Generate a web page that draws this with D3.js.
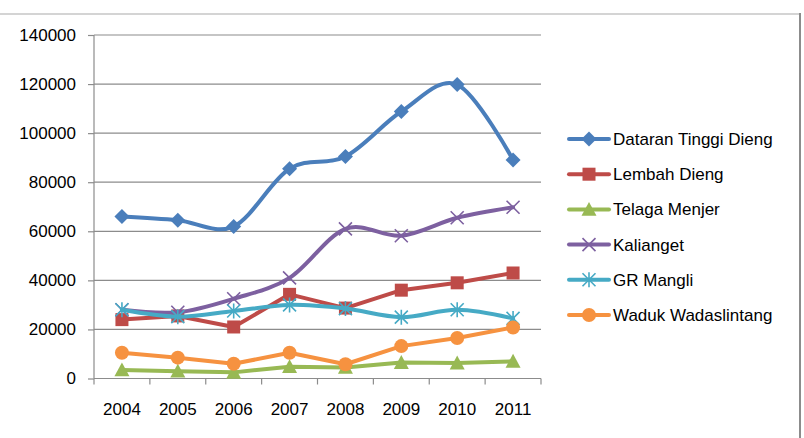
<!DOCTYPE html>
<html>
<head>
<meta charset="utf-8">
<script src="https://cdn.jsdelivr.net/npm/d3@7"></script>
<style>
  html, body { margin: 0; padding: 0; background: #fff; }
  svg { display: block; }
  text { font-family: "Liberation Sans", Arial, sans-serif; fill: #000; }
</style>
</head>
<body>
<svg id="chart" width="804" height="438"></svg>
<script>
/* Visitor numbers per tourist site, 2004–2011 */
var years = ['2004', '2005', '2006', '2007', '2008', '2009', '2010', '2011'];
var yTicks = [0, 20000, 40000, 60000, 80000, 100000, 120000, 140000];

var seriesNames = ['Dataran Tinggi Dieng', 'Lembah Dieng', 'Telaga Menjer',
                   'Kalianget', 'GR Mangli', 'Waduk Wadaslintang'];

var dataranTinggiDieng = [66000, 64500, 62000, 85500, 90500, 108800, 119800, 89100];
var lembahDieng        = [24000, 25500, 21000, 34300, 28700, 36000, 39000, 43000];
var telagaMenjer       = [3500, 3000, 2500, 4800, 4500, 6500, 6300, 7000];
var kalianget          = [28000, 27000, 32500, 41000, 61000, 58200, 65500, 69800];
var grMangli           = [28000, 25200, 27500, 30000, 28500, 25000, 28000, 24500];
var wadukWadaslintang  = [10500, 8500, 6000, 10500, 5800, 13200, 16500, 20800];

var seriesValues = [dataranTinggiDieng, lembahDieng, telagaMenjer,
                    kalianget, grMangli, wadukWadaslintang];

(function () {
  'use strict';

  var colors  = ['#4A7EBB', '#BE4B48', '#98B954', '#7D60A0', '#46AAC5', '#F69240'];
  var markers = ['diamond', 'square', 'triangle', 'cross', 'star', 'circle'];
  var smooth  = [true, false, false, true, true, false];

  var svg = d3.select('#chart');

  /* chart frame: light top rule, darker right edge */
  svg.append('line').attr('x1', 0).attr('x2', 800).attr('y1', 14).attr('y2', 14)
    .attr('stroke', '#d4d4d4').attr('stroke-width', 2);
  svg.append('line').attr('x1', 800).attr('x2', 800).attr('y1', 13).attr('y2', 438)
    .attr('stroke', '#8c8c8c').attr('stroke-width', 2);

  var plot = { left: 94, right: 541, top: 35, bottom: 378.5 };

  var x = d3.scaleBand().domain(years).range([plot.left, plot.right]);
  var y = d3.scaleLinear().domain([0, 140000]).range([plot.bottom, plot.top]);

  /* gridlines */
  svg.append('g').selectAll('line').data(yTicks.slice(1)).join('line')
    .attr('x1', plot.left).attr('x2', plot.right)
    .attr('y1', function (d) { return y(d); }).attr('y2', function (d) { return y(d); })
    .attr('stroke', '#8c8c8c').attr('stroke-width', 1.2);

  /* y axis */
  var yAxis = svg.append('g').attr('transform', 'translate(' + plot.left + ',0)')
    .call(d3.axisLeft(y).tickValues(yTicks).tickSize(6).tickPadding(12).tickFormat(d3.format('d')));
  yAxis.select('.domain').attr('stroke', '#8c8c8c').attr('stroke-width', 1.2)
    .attr('d', 'M0,' + plot.top + 'V' + plot.bottom);
  yAxis.selectAll('.tick line').attr('stroke', '#8c8c8c').attr('stroke-width', 1.2);
  yAxis.selectAll('.tick text').style('font-size', '17px')
    .style('font-family', '"Liberation Sans", Arial, sans-serif').attr('fill', '#000');

  /* x axis: ticks between categories */
  var xg = svg.append('g');
  xg.append('line').attr('x1', plot.left).attr('x2', plot.right)
    .attr('y1', plot.bottom).attr('y2', plot.bottom)
    .attr('stroke', '#8c8c8c').attr('stroke-width', 1.2);
  var bounds = years.map(function (d) { return x(d); }).concat([plot.right]);
  xg.selectAll('line.tk').data(bounds).join('line').attr('class', 'tk')
    .attr('x1', function (d) { return d; }).attr('x2', function (d) { return d; })
    .attr('y1', plot.bottom).attr('y2', plot.bottom + 6)
    .attr('stroke', '#8c8c8c').attr('stroke-width', 1.2);
  xg.selectAll('text').data(years).join('text')
    .attr('x', function (d) { return x(d) + x.bandwidth() / 2; })
    .attr('y', 415)
    .attr('text-anchor', 'middle')
    .style('font-size', '17px')
    .text(function (d) { return d; });

  function cx(i) { return x(years[i]) + x.bandwidth() / 2; }

  function drawMarker(g, type, px, py, color) {
    var s;
    if (type === 'diamond') {
      s = 7.5;
      g.append('path').attr('d', 'M' + px + ',' + (py - s) + 'L' + (px + s) + ',' + py +
        'L' + px + ',' + (py + s) + 'L' + (px - s) + ',' + py + 'Z').attr('fill', color);
    } else if (type === 'square') {
      s = 6.5;
      g.append('rect').attr('x', px - s).attr('y', py - s).attr('width', 2 * s).attr('height', 2 * s)
        .attr('fill', color);
    } else if (type === 'triangle') {
      s = 7.5;
      g.append('path').attr('d', 'M' + px + ',' + (py - s) + 'L' + (px + s) + ',' + (py + s * 0.85) +
        'L' + (px - s) + ',' + (py + s * 0.85) + 'Z').attr('fill', color);
    } else if (type === 'cross') {
      s = 6.5;
      g.append('path').attr('d', 'M' + (px - s) + ',' + (py - s) + 'L' + (px + s) + ',' + (py + s) +
        'M' + (px + s) + ',' + (py - s) + 'L' + (px - s) + ',' + (py + s))
        .attr('stroke', color).attr('stroke-width', 1.6).attr('fill', 'none');
    } else if (type === 'star') {
      s = 6.5;
      g.append('path').attr('d', 'M' + (px - s) + ',' + (py - s) + 'L' + (px + s) + ',' + (py + s) +
        'M' + (px + s) + ',' + (py - s) + 'L' + (px - s) + ',' + (py + s) +
        'M' + px + ',' + (py - s - 1) + 'L' + px + ',' + (py + s + 1))
        .attr('stroke', color).attr('stroke-width', 1.6).attr('fill', 'none');
    } else {
      g.append('circle').attr('cx', px).attr('cy', py).attr('r', 7).attr('fill', color);
    }
  }

  /* series, drawn in order so later ones sit on top */
  seriesValues.forEach(function (vals, k) {
    var g = svg.append('g');
    var line = d3.line()
      .x(function (d, i) { return cx(i); })
      .y(function (d) { return y(d); })
      .curve(smooth[k] ? d3.curveCardinal.tension(0) : d3.curveLinear);
    g.append('path').datum(vals).attr('d', line)
      .attr('fill', 'none').attr('stroke', colors[k]).attr('stroke-width', 4)
      .attr('stroke-linejoin', 'round').attr('stroke-linecap', 'round');
    vals.forEach(function (v, i) { drawMarker(g, markers[k], cx(i), y(v), colors[k]); });
  });

  /* legend */
  var leg = svg.append('g');
  seriesNames.forEach(function (name, k) {
    var ly = 139 + k * 35.2;
    var row = leg.append('g');
    row.append('line').attr('x1', 569).attr('x2', 609).attr('y1', ly).attr('y2', ly)
      .attr('stroke', colors[k]).attr('stroke-width', 4).attr('stroke-linecap', 'round');
    drawMarker(row, markers[k], 589, ly, colors[k]);
    row.append('text').attr('x', 613).attr('y', ly + 6)
      .style('font-size', '17px').text(name);
  });
})();
</script>
</body>
</html>
